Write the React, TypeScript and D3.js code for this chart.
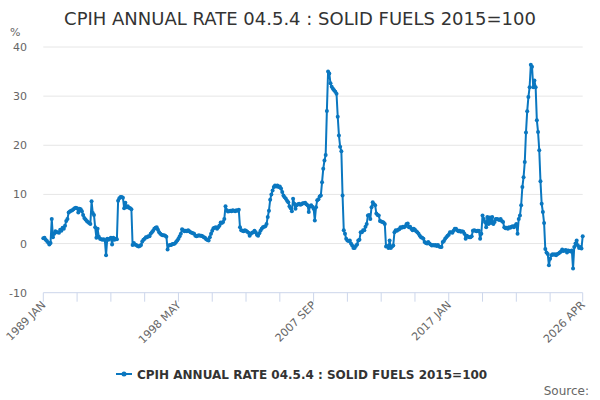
import { line, scaleLinear, scalePoint, select } from "d3";
import { useEffect, useRef } from "react";

const TITLE = "CPIH ANNUAL RATE 04.5.4 : SOLID FUELS 2015=100";
const UNIT = "%";
const SOURCE = "Source:";

const FIRST_YEAR = 1989;
const MONTHS = ["JAN", "FEB", "MAR", "APR", "MAY", "JUN", "JUL", "AUG", "SEP", "OCT", "NOV", "DEC"];
const MONTHS_IN_LAST_YEAR = 4; // 2026 runs to APR

// monthly annual rate, %, one row per year from 1989 JAN
const rates: number[] = [
  1.1, 1.2, 0.8, 0.5, 0.2, -0.2, 0.1, 5.0, 1.3, 2.0, 2.5, 2.3, // 1989
  2.3, 2.2, 2.8, 2.6, 3.2, 3.0, 3.6, 4.6, 5.0, 6.3, 6.5, 6.7, // 1990
  6.8, 7.0, 7.2, 7.3, 7.2, 6.3, 7.1, 7.0, 6.6, 5.8, 5.2, 4.9, // 1991
  4.6, 4.4, 4.2, 4.0, 8.6, 6.2, 5.8, 3.3, 1.2, 3.0, 1.4, 1.0, // 1992
  0.9, 0.8, 0.9, 0.7, -2.4, 1.0, 0.8, 1.0, 1.2, -0.2, 1.2, 0.8, // 1993
  1.0, 0.9, 8.7, 9.2, 9.5, 9.5, 9.3, 7.2, 8.3, 7.4, 7.6, 7.3, // 1994
  7.2, 7.0, -0.3, 0.1, -0.2, -0.3, -0.5, -0.6, -0.5, -0.3, 0.4, 0.8, // 1995
  1.0, 1.3, 1.3, 1.5, 1.5, 2.0, 2.3, 2.6, 3.0, 3.2, 3.3, 2.8, // 1996
  2.3, 2.0, 1.8, 1.7, 1.7, 1.6, 1.4, -1.2, -0.4, -0.3, -0.3, -0.1, // 1997
  -0.1, 0.0, 0.3, 0.6, 1.0, 1.5, 2.0, 2.9, 2.7, 2.5, 2.6, 2.5, // 1998
  2.7, 2.5, 2.3, 2.2, 2.1, 2.0, 1.6, 1.5, 1.6, 1.7, 1.6, 1.6, // 1999
  1.5, 1.3, 1.2, 0.9, 0.7, 0.6, 1.3, 2.0, 2.6, 3.1, 3.2, 3.3, // 2000
  3.0, 3.3, 3.7, 4.3, 4.2, 4.4, 5.0, 7.6, 6.8, 6.5, 6.6, 6.7, // 2001
  6.6, 6.8, 6.7, 6.6, 6.8, 6.7, 6.9, 3.3, 2.7, 2.6, 2.5, 2.7, // 2002
  2.6, 2.4, 2.2, 1.6, 2.0, 2.2, 2.3, 2.6, 2.3, 1.8, 1.6, 2.1, // 2003
  2.6, 3.0, 3.3, 3.4, 3.5, 4.0, 5.4, 6.7, 8.9, 10.0, 10.8, 11.5, // 2004
  11.8, 11.6, 11.8, 11.5, 11.6, 11.2, 10.5, 9.8, 9.4, 9.1, 8.7, 8.4, // 2005
  7.6, 7.2, 6.6, 9.1, 8.1, 7.1, 7.8, 8.0, 8.1, 7.9, 8.0, 8.2, // 2006
  8.2, 8.3, 8.0, 7.8, 6.4, 7.6, 7.8, 7.5, 7.1, 4.7, 7.4, 8.8, // 2007
  9.0, 9.6, 9.8, 12.5, 15.2, 16.9, 18.0, 27.0, 35.0, 34.6, 32.6, 31.9, // 2008
  31.5, 31.2, 30.9, 30.5, 25.8, 22.0, 19.7, 18.8, 9.8, 2.7, 2.0, 1.0, // 2009
  0.6, 0.5, 0.6, 0.0, -0.4, -0.9, -0.9, -0.5, -0.2, 0.6, 0.8, 2.3, // 2010
  2.3, 2.7, 2.7, 3.4, 4.0, 5.7, 5.8, 5.0, 7.4, 8.4, 8.0, 7.8, // 2011
  6.1, 5.8, 5.7, 4.6, 4.5, 4.4, 4.3, 4.0, -0.6, -0.5, -0.9, 0.6, // 2012
  -0.9, -0.6, -0.4, 2.3, 2.7, 2.6, 2.8, 2.9, 3.3, 3.2, 3.4, 3.3, // 2013
  3.5, 4.0, 4.1, 3.3, 3.4, 3.0, 2.7, 3.0, 2.8, 2.5, 2.3, 2.0, // 2014
  1.6, 1.3, 1.2, 1.0, 0.3, 0.1, 0.0, 0.3, 0.0, -0.2, -0.4, -0.3, // 2015
  -0.4, -0.3, -0.5, -0.3, -0.6, -0.7, -0.7, 0.3, 0.5, 1.0, 1.3, 1.6, // 2016
  1.8, 2.3, 2.3, 2.2, 2.6, 3.0, 3.0, 2.7, 2.5, 2.6, 2.4, 2.5, // 2017
  2.4, 2.0, 1.0, 1.6, 1.4, 1.3, 1.3, 1.5, 2.6, 2.7, 2.6, 2.5, // 2018
  2.6, 2.6, 1.0, 2.0, 5.7, 5.0, 4.4, 3.3, 5.4, 4.0, 5.3, 4.2, // 2019
  5.4, 4.0, 4.4, 5.0, 5.0, 4.9, 4.8, 5.0, 4.6, 4.4, 3.3, 3.1, // 2020
  3.2, 3.0, 3.3, 3.2, 3.4, 3.5, 3.3, 3.7, 4.0, 2.0, 5.0, 5.7, // 2021
  7.8, 11.5, 13.5, 16.6, 22.6, 26.9, 29.8, 31.8, 36.4, 36.0, 31.8, 33.2, // 2022
  31.8, 25.1, 22.7, 19.0, 12.7, 8.1, 6.4, 4.2, -1.1, -1.8, -2.1, -4.4, // 2023
  -3.1, -2.4, -2.2, -2.3, -2.2, -2.4, -2.1, -2.0, -1.8, -1.6, -1.2, -1.5, // 2024
  -1.4, -1.3, -1.8, -1.4, -1.5, -1.6, -1.4, -5.1, -0.7, 0.0, 0.6, -0.4, // 2025
  -0.9, -0.7, -1.0, 1.5, // 2026
];

const Y_TICKS = [-10, 0, 10, 20, 30, 40];
const X_LABELS = ["1989 JAN", "1998 MAY", "2007 SEP", "2017 JAN", "2026 APR"];
const X_TICK_EVERY = 28;

const categories: string[] = [];
for (let y = FIRST_YEAR; categories.length < rates.length; y++) {
  const count = categories.length + 12 <= rates.length ? 12 : MONTHS_IN_LAST_YEAR;
  for (let m = 0; m < count; m++) categories.push(`${y} ${MONTHS[m]}`);
}

const BLUE = "#0a77c0";
const FONT = "'DejaVu Sans', sans-serif";

export default function App() {
  const svgRef = useRef<SVGSVGElement | null>(null);

  useEffect(() => {
    if (!svgRef.current) return;
    const svg = select(svgRef.current);
    svg.selectAll("*").remove();

    const width = 600;
    const height = 400;
    const plot = { left: 43.3, right: 582.7, top: 47, bottom: 292.7 };

    const x = scalePoint<string>().domain(categories).range([plot.left, plot.right]);
    const y = scaleLinear().domain([-10, 40]).range([plot.bottom, plot.top]);

    svg.attr("viewBox", `0 0 ${width} ${height}`).attr("width", width).attr("height", height);
    svg.append("rect").attr("width", width).attr("height", height).attr("fill", "#ffffff");

    svg
      .append("text")
      .attr("x", width / 2)
      .attr("y", 25)
      .attr("text-anchor", "middle")
      .attr("font-family", FONT)
      .attr("font-size", 18)
      .attr("fill", "#333333")
      .text(TITLE);

    svg
      .append("text")
      .attr("x", 10)
      .attr("y", 36)
      .attr("font-family", FONT)
      .attr("font-size", 11)
      .attr("fill", "#666666")
      .text(UNIT);

    // grid + y labels
    const grid = svg.append("g");
    Y_TICKS.forEach((t) => {
      if (t !== -10) {
        grid
          .append("line")
          .attr("x1", plot.left)
          .attr("x2", plot.right)
          .attr("y1", y(t))
          .attr("y2", y(t))
          .attr("stroke", "#e6e6e6")
          .attr("stroke-width", 1);
      }
      grid
        .append("text")
        .attr("x", 27)
        .attr("y", y(t) + 4)
        .attr("text-anchor", "end")
        .attr("font-family", FONT)
        .attr("font-size", 11)
        .attr("fill", "#666666")
        .text(String(t));
    });

    // x axis
    const axis = svg.append("g");
    axis
      .append("line")
      .attr("x1", plot.left)
      .attr("x2", plot.right)
      .attr("y1", plot.bottom)
      .attr("y2", plot.bottom)
      .attr("stroke", "#ccd6eb");
    const tickCats = categories.filter((_, i) => i % X_TICK_EVERY === 0);
    tickCats.push(categories[categories.length - 1]);
    tickCats.forEach((c) => {
      axis
        .append("line")
        .attr("x1", x(c) ?? 0)
        .attr("x2", x(c) ?? 0)
        .attr("y1", plot.bottom)
        .attr("y2", plot.bottom + 9)
        .attr("stroke", "#ccd6eb");
    });
    X_LABELS.forEach((c) => {
      const px = (x(c) ?? 0) + 3;
      const py = plot.bottom + 13;
      axis
        .append("text")
        .attr("transform", `translate(${px},${py}) rotate(-45)`)
        .attr("text-anchor", "end")
        .attr("font-family", FONT)
        .attr("font-size", 11)
        .attr("fill", "#666666")
        .text(c);
    });

    // series
    const path = line<number>()
      .x((_, i) => x(categories[i]) ?? 0)
      .y((d) => y(d));
    svg
      .append("path")
      .datum(rates)
      .attr("d", path)
      .attr("fill", "none")
      .attr("stroke", BLUE)
      .attr("stroke-width", 2)
      .attr("stroke-linejoin", "round");
    svg
      .append("g")
      .selectAll("circle")
      .data(rates)
      .join("circle")
      .attr("cx", (_, i) => x(categories[i]) ?? 0)
      .attr("cy", (d) => y(d))
      .attr("r", 2)
      .attr("fill", BLUE);

    // legend
    const legend = svg.append("g").attr("transform", "translate(116,374)");
    legend
      .append("line")
      .attr("x1", 0)
      .attr("x2", 16)
      .attr("stroke", BLUE)
      .attr("stroke-width", 2);
    legend.append("circle").attr("cx", 8).attr("r", 2.5).attr("fill", BLUE);
    legend
      .append("text")
      .attr("x", 21)
      .attr("y", 4.5)
      .attr("font-family", FONT)
      .attr("font-size", 12)
      .attr("font-weight", "bold")
      .attr("fill", "#333333")
      .text(TITLE);

    svg
      .append("text")
      .attr("x", 589)
      .attr("y", 395)
      .attr("text-anchor", "end")
      .attr("font-family", FONT)
      .attr("font-size", 12)
      .attr("fill", "#666666")
      .text(SOURCE);
  }, []);

  return (
    <svg
      ref={svgRef}
      style={{ position: "absolute", left: 0, top: 0, display: "block" }}
      role="img"
      aria-label={TITLE}
    />
  );
}
